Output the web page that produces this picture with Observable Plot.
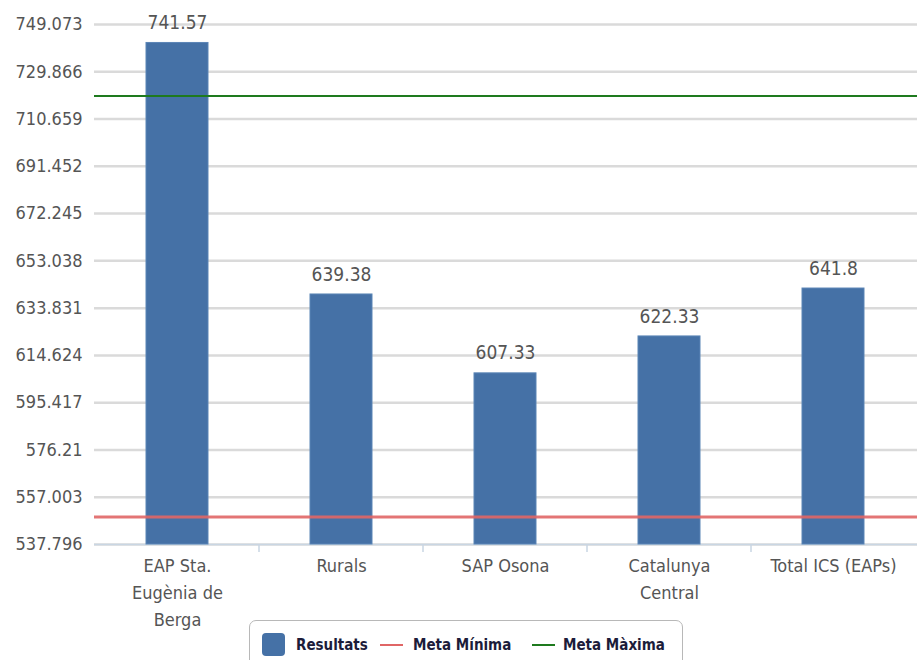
<!DOCTYPE html>
<html>
<head>
<meta charset="utf-8">
<script src="https://cdn.jsdelivr.net/npm/d3@7"></script>
<script src="https://cdn.jsdelivr.net/npm/@observablehq/plot@0.6"></script>
<style>
  body { margin: 0; background: #fff; }
  #wrap { position: relative; width: 917px; height: 660px; overflow: hidden; }
  #chart svg { font-stretch: condensed; }
  #legend {
    position: absolute; left: 249px; top: 620px; width: 434px; height: 50px;
    border: 1px solid #b8b8b8; border-radius: 7px; box-sizing: border-box; background: #fff;
    font-family: "DejaVu Sans", sans-serif; font-stretch: condensed;
    font-weight: bold; font-size: 15px; color: #1c1c3a;
  }
  .li { position: absolute; top: 12px; line-height: 24px; white-space: nowrap; }
  .sw { position: absolute; top: 12px; width: 23px; height: 23px; border-radius: 4px; }
  .ln { position: absolute; top: 23px; width: 23px; height: 2px; }
</style>
</head>
<body>
<div id="wrap">
  <div id="chart"></div>
  <div id="legend"></div>
</div>
<script>
const categories = ["EAP Sta. Eugènia de Berga", "Rurals", "SAP Osona", "Catalunya Central", "Total ICS (EAPs)"];
const categoryLabels = ["EAP Sta.\nEugènia de\nBerga", "Rurals", "SAP Osona", "Catalunya\nCentral", "Total ICS (EAPs)"];
const resultats = [741.57, 639.38, 607.33, 622.33, 641.8];
const resultatLabels = ["741.57", "639.38", "607.33", "622.33", "641.8"];
const metaMinima = 549;
const metaMaxima = 720;
const yTickLabels = ["537.796", "557.003", "576.21", "595.417", "614.624", "633.831", "653.038", "672.245", "691.452", "710.659", "729.866", "749.073"];
const yTicks = yTickLabels.map(Number);
const seriesNames = ["Resultats", "Meta Mínima", "Meta Màxima"];
const seriesColors = ["#4571a6", "#e06666", "#1e7a1e"];

const data = categories.map((c, i) => ({cat: c, value: resultats[i], label: resultatLabels[i]}));
const labelOf = new Map(categories.map((c, i) => [c, categoryLabels[i]]));
const tickLabelOf = new Map(yTicks.map((v, i) => [v, yTickLabels[i]]));

const font = "'DejaVu Sans', sans-serif";

// band boundary ticks on the x axis
function boundaryTicks(index, scales, values, dims) {
  const g = d3.create("svg:g");
  const x = scales.x;
  const step = x.step();
  const y0 = dims.height - dims.marginBottom;
  categories.slice(1).forEach(c => {
    const px = x(c) - (step - x.bandwidth()) / 2;
    g.append("line").attr("x1", px).attr("x2", px).attr("y1", y0).attr("y2", y0 + 8)
      .attr("stroke", "#c9d6e3").attr("stroke-width", 1.5);
  });
  return g.node();
}

const chart = Plot.plot({
  width: 917,
  height: 660,
  marginLeft: 94,
  marginRight: 0,
  marginTop: 24,
  marginBottom: 116,
  style: {fontFamily: font, fontSize: "18px", color: "#555", background: "#fff"},
  x: {domain: categories, paddingInner: 0.62, paddingOuter: 0.31, align: 0.5, label: null},
  y: {domain: [yTicks[0], yTicks[yTicks.length - 1]], label: null},
  marks: [
    Plot.gridY(yTicks, {stroke: "#dadada", strokeOpacity: 1, strokeWidth: 2.5}),
    Plot.axisY(yTicks, {tickSize: 0, tickPadding: 12, tickFormat: d => tickLabelOf.get(d), fill: "#555", fontSize: 18, label: null}),
    Plot.axisX({tickSize: 0, tickPadding: 8, tickFormat: d => labelOf.get(d), lineHeight: 1.5, fill: "#555", fontSize: 18, lineAnchor: "top", label: null}),
    Plot.ruleY([yTicks[0]], {stroke: "#c9d6e3", strokeWidth: 1.5}),
    boundaryTicks,
    Plot.barY(data, {x: "cat", y1: yTicks[0], y2: "value", fill: seriesColors[0], stroke: "#5b85b6", strokeWidth: 1}),
    Plot.ruleY([metaMinima], {stroke: seriesColors[1], strokeWidth: 3, strokeOpacity: 0.9}),
    Plot.ruleY([metaMaxima], {stroke: seriesColors[2], strokeWidth: 2}),
    Plot.text(data, {x: "cat", y: "value", text: "label", dy: -20, fill: "#555", fontSize: 19})
  ]
});
document.getElementById("chart").appendChild(chart);

// legend
const legend = document.getElementById("legend");
const items = [
  {type: "sw", left: 12, textLeft: 46},
  {type: "ln", left: 130, textLeft: 163},
  {type: "ln", left: 282, textLeft: 313}
];
items.forEach((it, i) => {
  const m = document.createElement("div");
  m.className = it.type;
  m.style.left = it.left + "px";
  m.style.background = seriesColors[i];
  legend.appendChild(m);
  const t = document.createElement("div");
  t.className = "li";
  t.style.left = it.textLeft + "px";
  t.textContent = seriesNames[i];
  legend.appendChild(t);
});
</script>
</body>
</html>
